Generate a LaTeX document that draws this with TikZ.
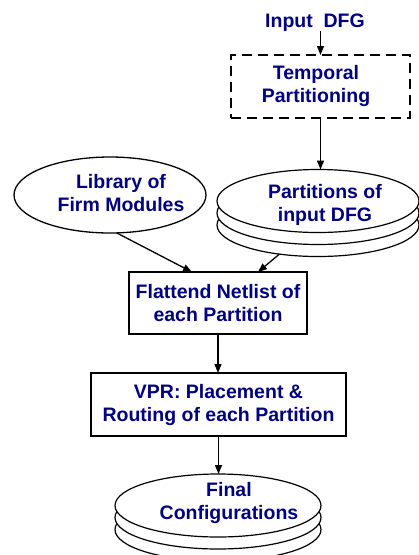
\documentclass[tikz,border=0pt]{standalone}
\usepackage{fontspec}
\setmainfont{Liberation Sans}
\usetikzlibrary{arrows.meta,shapes.geometric}
\definecolor{labelblue}{RGB}{0,0,128}
\begin{document}
\begin{tikzpicture}[x=1pt,y=-1pt,
  every node/.style={inner sep=0pt,outer sep=0pt},
  lbl/.style={text=labelblue,font=\fontsize{19.5}{23}\selectfont\bfseries,align=center},
  box/.style={draw,line width=1.3pt,rectangle,fill=white},
  disc/.style={draw,line width=1.2pt,ellipse,fill=white},
  arr/.style={line width=1.3pt,-{Triangle[length=9pt,width=7pt]}},
]
\useasboundingbox (0,0) rectangle (419,555);

% input and temporal partitioning
\node[lbl,anchor=base] (inp) at (315,27) {Input\ \ DFG};
\node[box,dashed,dash pattern=on 10pt off 6pt,minimum width=179pt,minimum height=63pt] (tp) at (320.5,86.5) {};
\node[lbl] (tptext) at (316,85.5) {Temporal\\Partitioning};

% stacked partitions
\node[disc,minimum width=202pt,minimum height=63pt] (parts3) at (318,225) {};
\node[disc,minimum width=202pt,minimum height=63pt] (parts2) at (318,213) {};
\node[disc,minimum width=202pt,minimum height=63pt] (parts) at (318,201) {};
\node[lbl] (partstext) at (325,204.5) {Partitions of\\input DFG};

% module library
\node[disc,line width=1.3pt,minimum width=192pt,minimum height=76pt] (lib) at (110,195) {};
\node[lbl] (libtext) at (121,193.5) {Library of\\Firm Modules};

% processing steps
\node[box,lbl,minimum width=178pt,minimum height=62pt] (flat) at (218,303) {Flattend Netlist of\\each Partition};
\node[box,lbl,minimum width=255pt,minimum height=63pt] (vpr) at (218.5,404.5) {VPR: Placement \&\\Routing of each Partition};

% stacked final configurations
\node[disc,minimum width=206pt,minimum height=63pt] (final3) at (218,529.5) {};
\node[disc,minimum width=206pt,minimum height=63pt] (final2) at (218,517.5) {};
\node[disc,minimum width=206pt,minimum height=63pt] (final) at (218,505.5) {};
\node[lbl] (finaltext) at (229,503) {Final\\Configurations};

% connectors
\draw[arr] (inp.south -| tp.north) -- (tp.north);
\draw[arr] (tp.south) -- (tp.south |- parts.north);
\draw[arr] (lib.-80) -- ([xshift=63pt]flat.north west);
\draw[arr] (parts3.-143) -- ([xshift=-49pt]flat.north east);
\draw[arr] (flat.south) -- (flat.south |- vpr.north);
\draw[arr] (vpr.south) -- (vpr.south |- final.north);
\end{tikzpicture}
\end{document}
